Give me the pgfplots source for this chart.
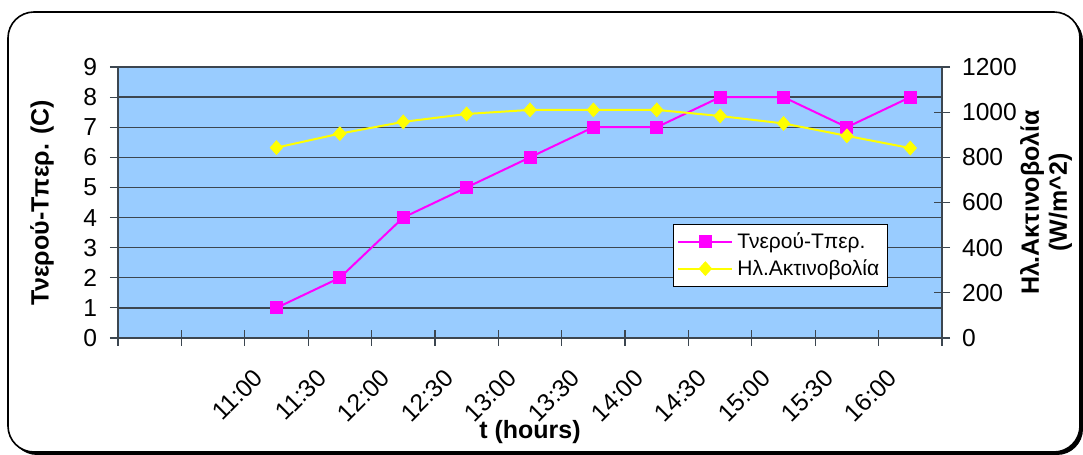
\documentclass[border=0pt]{standalone}
\usepackage{fontspec}
\setmainfont{Liberation Sans}
\usepackage{pgfplots}
\pgfplotsset{compat=1.18}
\definecolor{plotbg}{RGB}{153,204,255}
\definecolor{gridc}{RGB}{60,70,80}
\definecolor{mag}{RGB}{255,0,255}
\definecolor{yel}{RGB}{255,255,0}
\begin{document}
\begin{tikzpicture}
\fill[white] (0,0) rectangle (541.5pt,227.5pt);
\fill[black, rounded corners=13pt] (5.5pt,0pt) rectangle (541.5pt,220pt);
\draw[black, line width=0.8pt, fill=white, rounded corners=13pt] (4pt,1.5pt) rectangle (540pt,221.5pt);
\begin{axis}[
  at={(59pt,58.5pt)}, anchor=south west,
  scale only axis, width=412pt, height=135.5pt,
  xmin=0, xmax=13, ymin=0, ymax=9,
  axis background/.style={fill=plotbg},
  axis line style={gridc, line width=0.8pt},
  tick pos=left, tick align=center, major tick length=8pt,
  tick style={gridc, line width=0.6pt},
  xtick={0,1,...,13}, xticklabels={},
  extra x ticks={2.5,3.5,...,12.5},
  extra x tick labels={11:00,11:30,12:00,12:30,13:00,13:30,14:00,14:30,15:00,15:30,16:00},
  extra x tick style={tick style={draw=none}, grid=none,
     xticklabel style={xshift=-12pt, yshift=-10.5pt, rotate=45, anchor=north east, inner sep=0pt}},
  ytick={0,1,...,9},
  yticklabel style={xshift=-3pt},
  ymajorgrids, major grid style={gridc, line width=0.7pt},
  tick label style={font=\fontsize{12.3}{14}\selectfont},
  /pgf/number format/assume math mode=true,
  label style={font=\bfseries\fontsize{12.5}{14}\selectfont},
  xlabel={t (hours)},
  xlabel style={at={([yshift=-47pt]rel axis cs:0.5,0)}, anchor=center},
  ylabel={Τνερού-Τπερ. (C)},
  ylabel style={at={([xshift=-38pt]rel axis cs:0,0.5)}, anchor=center},
]
\addplot[color=mag, line width=1pt, mark=square*, mark size=2.75pt, mark options={solid}]
  coordinates {(2.5,1) (3.5,2) (4.5,4) (5.5,5) (6.5,6) (7.5,7) (8.5,7) (9.5,8) (10.5,8) (11.5,7) (12.5,8)};
\end{axis}
\begin{axis}[
  at={(59pt,58.5pt)}, anchor=south west,
  scale only axis, width=412pt, height=135.5pt,
  xmin=0, xmax=13, ymin=0, ymax=1200,
  axis y line*=right, axis x line=none,
  axis line style={gridc, line width=0.8pt},
  tick align=center, major tick length=8pt,
  tick style={gridc, line width=0.6pt},
  ytick={0,200,...,1200},
  yticklabel style={xshift=2.5pt},
  tick label style={font=\fontsize{12.3}{14}\selectfont},
  /pgf/number format/assume math mode=true,
  /pgf/number format/1000 sep={},
  label style={font=\bfseries\fontsize{12.5}{14}\selectfont},
  ylabel={Ηλ.Ακτινοβολία\\(W/m\textasciicircum2)},
  ylabel style={at={([xshift=52pt]rel axis cs:1,0.5)}, anchor=center, align=center},
  legend style={at={(0.6735,0.4207)}, anchor=north west, draw=black, fill=white,
     font=\fontsize{10.5}{12}\selectfont, inner sep=2pt, row sep=0pt},
  legend cell align=left,
  legend image code/.code={\draw[mark repeat=2,mark phase=2,#1] plot coordinates {(0pt,0pt) (13.5pt,0pt) (27pt,0pt)};},
]
\addlegendimage{color=mag, line width=1pt, mark=square*, mark size=2.75pt, mark options={solid}}
\addlegendentry{Τνερού-Τπερ.}
\addplot[color=yel, line width=1pt, mark=diamond*, mark size=3pt, mark options={solid, xscale=1.2}]
  coordinates {(2.5,843) (3.5,905) (4.5,957) (5.5,992) (6.5,1010) (7.5,1010) (8.5,1010) (9.5,983) (10.5,950) (11.5,895) (12.5,841)};
\addlegendentry{Ηλ.Ακτινοβολία}
\end{axis}
\end{tikzpicture}
\end{document}
